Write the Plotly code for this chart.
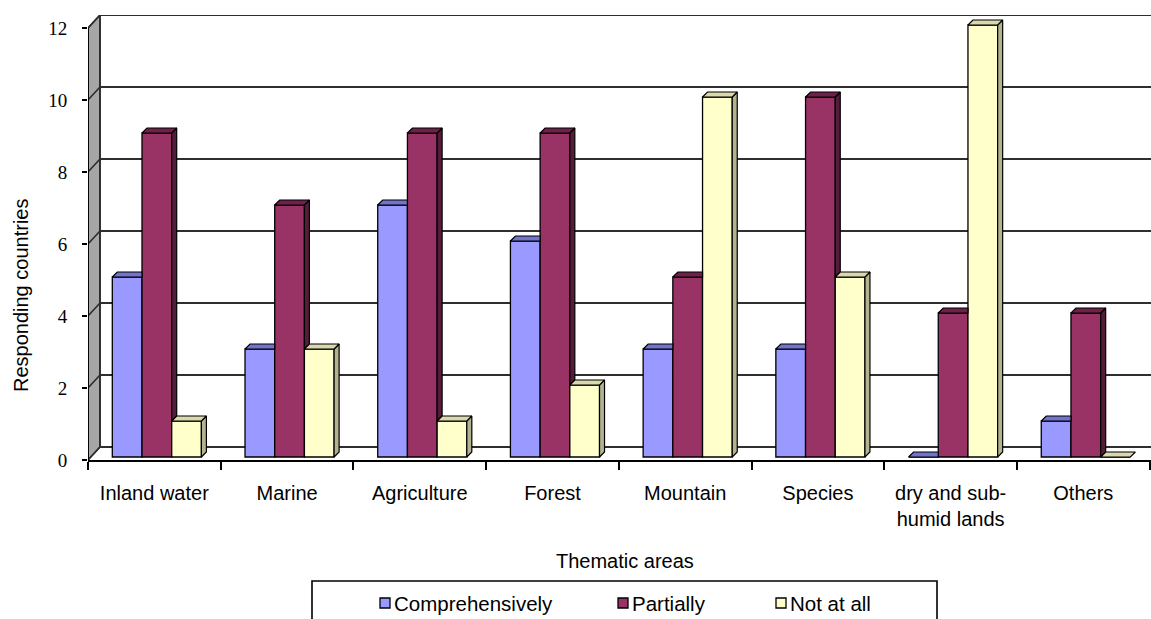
import plotly.graph_objects as go

# ---- data -------------------------------------------------------------
categories = ["Inland water", "Marine", "Agriculture", "Forest", "Mountain",
              "Species", "dry and sub-<br>humid lands", "Others"]
comprehensively = [5, 3, 7, 6, 3, 3, 0, 1]
partially = [9, 7, 9, 9, 5, 10, 4, 4]
not_at_all = [1, 3, 1, 2, 10, 5, 12, 0]
series_names = ["Comprehensively", "Partially", "Not at all"]
y_ticks = [0, 2, 4, 6, 8, 10, 12]

# ---- style ------------------------------------------------------------
front_colors = ["#9999FF", "#993366", "#FFFFCC"]
top_colors = ["#7373CC", "#6E2249", "#D9D9AD"]
side_colors = ["#6060A8", "#561C3B", "#B3B38F"]
SANS = "Liberation Sans, Arial, sans-serif"
SERIF = "Liberation Serif, Times New Roman, serif"
GRID = "#2E2E2E"

# ---- geometry (figure pixels -> data units) ---------------------------
W, H = 1151, 619
ML, MR, MT, MB = 88, 0, 15, 159
PW, PH = W - ML - MR, H - MT - MB
n = len(categories)
X_RANGE = [-0.5, n - 0.5 + 0.01]
UX = PW / (X_RANGE[1] - X_RANGE[0])          # px per category
UY = 36.0                                      # px per unit on y
Y_RANGE = [0, PH / UY]

WALL_DX, WALL_DY = 12 / UX, 13 / UY            # depth of the 3D box
BAR_DX, BAR_DY = 5 / UX, 5 / UY                # depth of each bar
BAR_BASE = 3 / UY                              # bars stand mid-depth on the floor
BAR_W = 29.7 / UX
GROUP_SHIFT = 2.5 / UX
offsets = [GROUP_SHIFT + (k - 1.5) * BAR_W for k in range(3)]

series = [comprehensively, partially, not_at_all]
x_idx = list(range(n))
y_top = max(y_ticks)

fig = go.Figure()

# front faces of the bars
for k, vals in enumerate(series):
    fig.add_trace(go.Bar(
        x=x_idx, y=vals, base=BAR_BASE, width=BAR_W, offset=offsets[k],
        marker=dict(color=front_colors[k], line=dict(color="#000000", width=1.3)),
        name=series_names[k], showlegend=False, hoverinfo="skip"))

# top and side faces, clipped where the neighbouring bar covers them
for k, vals in enumerate(series):
    nxt = series[k + 1] if k + 1 < len(series) else None
    tx, ty, sx, sy = [], [], [], []
    for i, v in enumerate(vals):
        xl = i + offsets[k]
        xr = xl + BAR_W
        top = BAR_BASE + v
        covered = nxt is not None and nxt[i] > v
        if covered:
            tx += [xl, xr, xr, xl + BAR_DX, xl, None]
            ty += [top, top, top + BAR_DY, top + BAR_DY, top, None]
        else:
            tx += [xl, xr, xr + BAR_DX, xl + BAR_DX, xl, None]
            ty += [top, top, top + BAR_DY, top + BAR_DY, top, None]
            low = BAR_BASE if nxt is None else BAR_BASE + nxt[i]
            if top > low:
                sx += [xr, xr + BAR_DX, xr + BAR_DX, xr, xr, None]
                sy += [low, low + BAR_DY, top + BAR_DY, top, low, None]
    if sx:
        fig.add_trace(go.Scatter(
            x=sx, y=sy, mode="lines", fill="toself", fillcolor=side_colors[k],
            line=dict(color="#000000", width=1.2), showlegend=False,
            hoverinfo="skip"))
    fig.add_trace(go.Scatter(
        x=tx, y=ty, mode="lines", fill="toself", fillcolor=top_colors[k],
        line=dict(color="#000000", width=1.2), showlegend=False, hoverinfo="skip"))

# ---- walls, floor and gridlines ---------------------------------------
x0 = X_RANGE[0]
x_end = X_RANGE[1] + 0.2
shapes = []
# grey side wall
shapes.append(dict(
    type="path", layer="below", fillcolor="#A6A6A6",
    line=dict(color="#000000", width=1.4),
    path=(f"M{x0},0 L{x0 + WALL_DX},{WALL_DY} L{x0 + WALL_DX},{y_top + WALL_DY} "
          f"L{x0},{y_top} Z")))
# gridlines on the back wall plus their diagonals across the side wall
for t in y_ticks:
    shapes.append(dict(type="line", layer="below", x0=x0 + WALL_DX, x1=x_end,
                       y0=t + WALL_DY, y1=t + WALL_DY,
                       line=dict(color=GRID, width=2)))
    shapes.append(dict(type="line", layer="below", x0=x0, x1=x0 + WALL_DX,
                       y0=t, y1=t + WALL_DY,
                       line=dict(color=GRID, width=1.6)))
# back wall left edge
shapes.append(dict(type="line", layer="below", x0=x0 + WALL_DX, x1=x0 + WALL_DX,
                   y0=WALL_DY, y1=y_top + WALL_DY,
                   line=dict(color=GRID, width=1.6)))
# front value axis
shapes.append(dict(type="line", layer="above", x0=x0, x1=x0, y0=0, y1=y_top,
                   line=dict(color="#000000", width=1.8)))


# ---- legend box (drawn below the axis title) ---------------------------
def paper_x(p):
    return (p - ML) / PW


def paper_y(p):
    return (MT + PH - p) / PH


shapes.append(dict(type="rect", xref="paper", yref="paper",
                   x0=paper_x(312), x1=paper_x(937),
                   y0=paper_y(581), y1=paper_y(660),
                   line=dict(color="#000000", width=1.6), fillcolor="rgba(0,0,0,0)"))
annotations = []
swatch_left = [380, 618, 776]
for k, name in enumerate(series_names):
    sx0 = swatch_left[k]
    shapes.append(dict(type="rect", xref="paper", yref="paper",
                       x0=paper_x(sx0), x1=paper_x(sx0 + 10),
                       y0=paper_y(608), y1=paper_y(598),
                       fillcolor=front_colors[k],
                       line=dict(color="#000000", width=1.3)))
    annotations.append(dict(xref="paper", yref="paper", x=paper_x(sx0 + 12),
                            y=paper_y(603), xanchor="left", yanchor="middle",
                            text=name, showarrow=False,
                            font=dict(family=SANS, size=20.5, color="#000000")))

# axis titles
annotations.append(dict(xref="paper", yref="paper", x=paper_x(21), y=paper_y(296),
                        text="Responding countries", textangle=-90,
                        xanchor="center", yanchor="middle", showarrow=False,
                        font=dict(family=SANS, size=20, color="#000000")))
annotations.append(dict(xref="paper", yref="paper", x=paper_x(625), y=paper_y(561),
                        text="Thematic areas", xanchor="center", yanchor="middle",
                        showarrow=False,
                        font=dict(family=SANS, size=20, color="#000000")))

fig.update_layout(
    width=W, height=H, autosize=False,
    margin=dict(l=ML, r=MR, t=MT, b=MB, pad=0),
    paper_bgcolor="#FFFFFF", plot_bgcolor="#FFFFFF",
    barmode="overlay", showlegend=False,
    shapes=shapes, annotations=annotations,
    xaxis=dict(
        range=X_RANGE, tickmode="array", tickvals=x_idx, ticktext=categories,
        ticks="", showgrid=False, zeroline=False,
        showline=True, linecolor="#000000", linewidth=1.8,
        tickfont=dict(family=SANS, size=20, color="#000000"),
        ticklabelstandoff=14,
        minor=dict(tickmode="array", tickvals=[i - 0.5 for i in range(n + 1)],
                   ticks="outside", ticklen=8, tickwidth=1.6,
                   tickcolor="#000000", showgrid=False),
    ),
    yaxis=dict(
        range=Y_RANGE, tickmode="array", tickvals=y_ticks,
        ticks="outside", ticklen=5, tickwidth=1.6, tickcolor="#000000",
        showgrid=False, zeroline=False, showline=False,
        tickfont=dict(family=SERIF, size=19, color="#000000"),
        ticklabelstandoff=11,
    ),
)

fig.write_html("out.html")
